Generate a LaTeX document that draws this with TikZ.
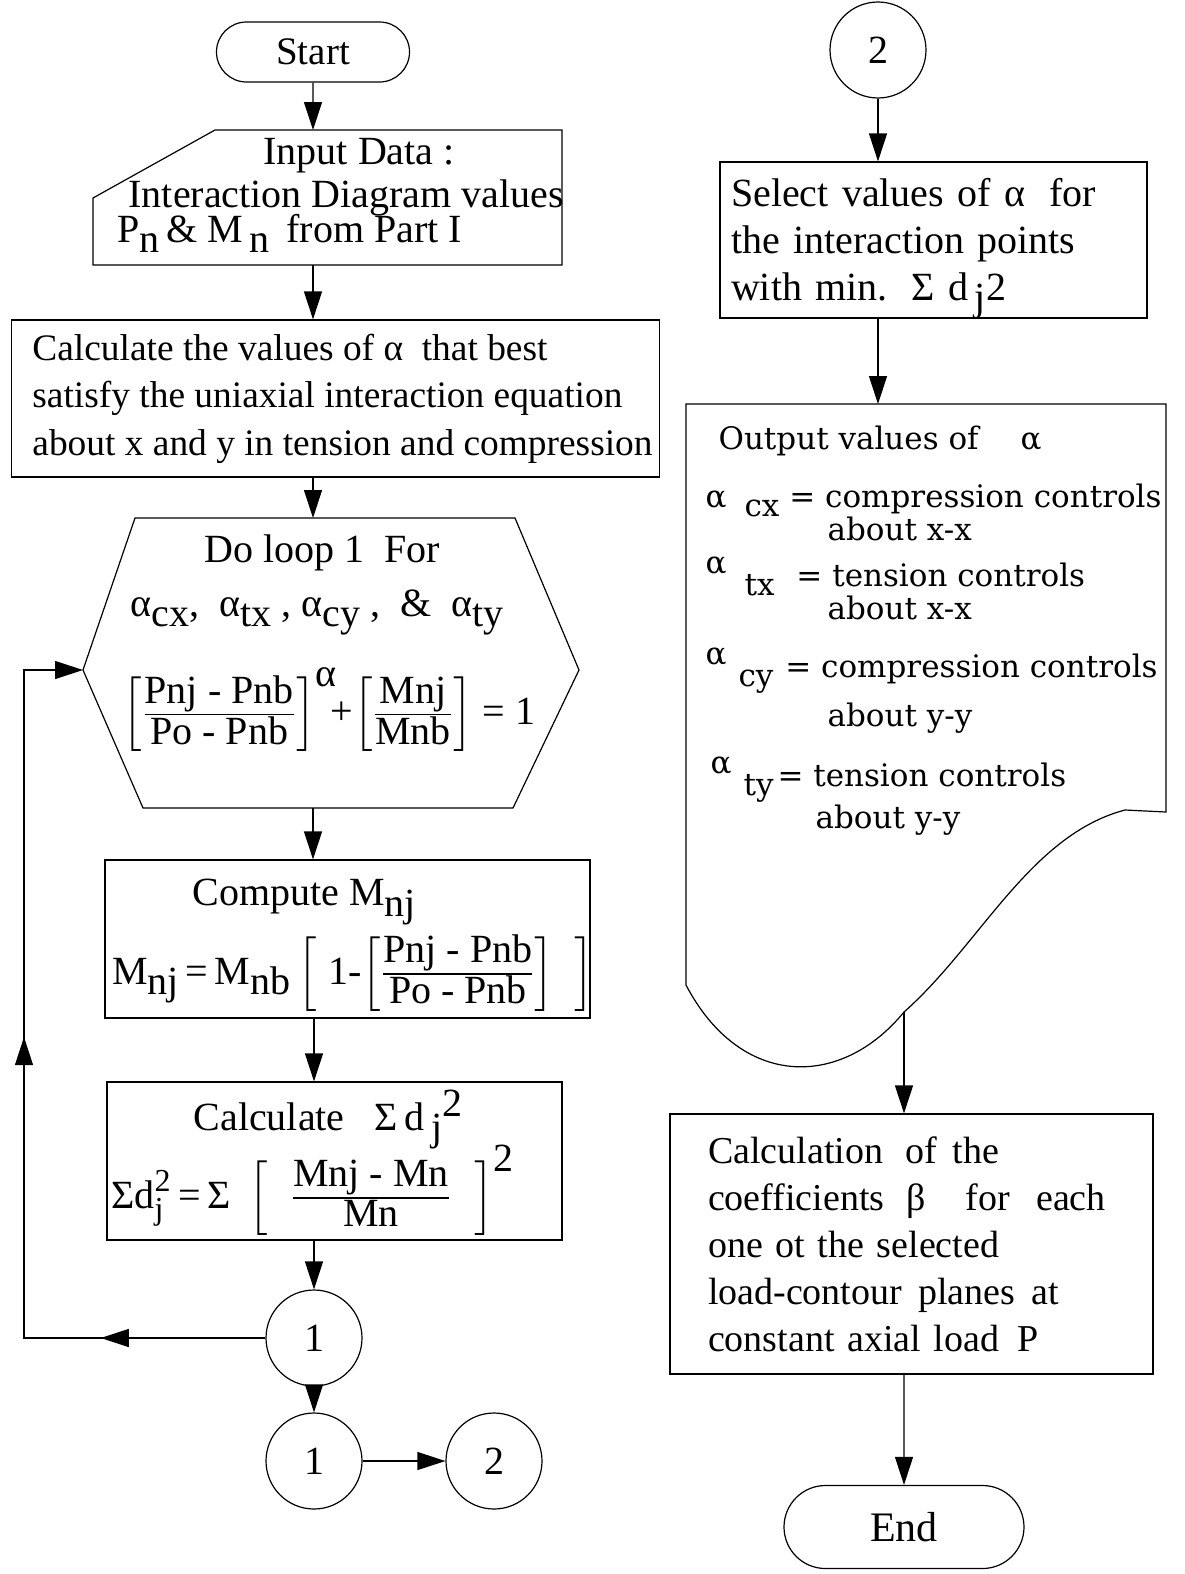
\documentclass[tikz,border=0pt]{standalone}
\usepackage{amsmath}
\usepackage{fontspec}
\setmainfont{Liberation Serif}
\newfontfamily\outfont{DejaVu Serif}
\usetikzlibrary{arrows.meta,calc,shapes.misc,decorations.markings}

\newcommand{\lo}[1]{\raisebox{-0.55ex}[0pt][0pt]{#1}}
\newcommand{\hi}[1]{\raisebox{0.8ex}[0pt][0pt]{#1}}
\newcommand{\eqf}{\fontsize{20}{20}\selectfont}
\newcommand{\idx}[1]{\text{\fontsize{16}{16}\selectfont #1}}
\newcommand{\fr}[2]{\tfrac{\text{\eqf #1}}{\text{\eqf #2}}}

\tikzset{
  box/.style={draw,rectangle,inner ysep=0pt},
  term/.style={draw,rounded rectangle,inner sep=0pt},
  conn/.style={draw,circle,minimum size=48pt,inner sep=0pt},
  flow/.style={-{Triangle[length=14pt,width=9pt]}},
  txt/.style={font=\fontsize{20}{23.5}\selectfont},
  txtsm/.style={font=\fontsize{19}{23.5}\selectfont},
  outtxt/.style={font=\outfont\fontsize{15.5}{18}\selectfont,anchor=west,inner sep=0pt},
}

\begin{document}
\begin{tikzpicture}[x=0.5pt,y=-0.5pt,line width=0.6pt,txt]
\useasboundingbox (0,0) rectangle (1184,1574);

% ---------- Left column ----------
\node[term,minimum width=96.5pt,minimum height=30pt,font=\fontsize{19.5}{20}\selectfont] (start) at (313,52) {Start};

% manual input shape
\draw (215,130) -- (562,130) -- (562,265) -- (93,265) -- (93,198) -- cycle;
\coordinate (inp-n) at (313,130);
\coordinate (inp-s) at (313,265);
\node[align=left,anchor=north west,inner sep=0pt] (inp-t) at (117,138)
  {\hspace*{73pt}Input Data :\\[-2pt]
   \hspace*{5.5pt}Interaction Diagram values\\[-6pt]
   P\lo{n}\,\& M\,\lo{n}\, from Part I};

\node[box,font=\fontsize{18.7}{23.75}\selectfont,minimum width=323.5pt,minimum height=78.5pt,align=left] (calc) at (335.5,398.5)
  {\hspace*{7pt}Calculate the values of α\ \ that best\\
   \hspace*{7pt}satisfy the uniaxial interaction equation\\
   \hspace*{7pt}about x and y in tension and compression};

% hexagon (loop)
\coordinate (hex-n) at (313,518);
\coordinate (hex-s) at (313,808);
\coordinate (hex-w) at (83,670);
\draw (135,518) -- (515,518) -- (579,670) -- (513,808) -- (143,808) -- (hex-w) -- cycle;
\node (hex-a) at (322,553) {Do loop 1\ \ For};
\node (hex-b) at (317,606) {α\lo{cx},\ \ α\lo{tx} , α\lo{cy} ,\ \ \&\ \ α\lo{ty}};
\node[inner sep=0pt] (hex-c) at (329,710)
  {$\left[\fr{Pnj - Pnb}{Po - Pnb}\right]^{\text{\eqf α}}\!\!\text{+}\!\left[\fr{Mnj}{Mnb}\right]\!\text{ = 1}$};

\node[box,minimum width=242.5pt,minimum height=79pt] (comp) at (347.5,939) {};
\node[inner sep=0pt] (comp-a) at (304,897) {Compute M\lo{nj}};
\node[inner sep=0pt] (comp-b) at (353,973)
  {$\text{M\lo{nj}\,=\,M\lo{nb}}\left[\;\text{1-}\!\left[\fr{Pnj - Pnb}{Po - Pnb}\right]\hspace{10pt}\right]$};

\node[box,minimum width=227.5pt,minimum height=79pt] (sumd) at (334.5,1161) {};
\node[inner sep=0pt] (sum-a) at (328,1117) {Calculate\ \ \ Σ\,d\,\lo{j}\hi{2}};
\node[inner sep=0pt] (sum-b) at (313,1190)
  {$\text{Σd}^{\idx{2}}_{\idx{j}}\,\text{=}\,\text{Σ}\ \left[\;\;\fr{Mnj - Mn}{Mn}\;\;\right]^{\text{\eqf 2}}$};

\node[conn] (c1) at (314,1338) {1};
\node[conn] (c1b) at (314,1461) {1};
\node[conn] (c2b) at (494,1461) {2};
\coordinate (loop-x) at (24,0);

% ---------- Right column ----------
\node[conn] (c2) at (878,50) {2};

\node[box,text width=202.5pt,inner xsep=5.5pt,minimum height=78pt,align=left] (sel) at (933.5,240)
  {Select values of α\hspace{12pt}for\\
   the interaction points\\
   with min.\hspace{12pt}Σ d\,\lo{j}2};

% document shape (output)
\coordinate (out-n) at (878,404);
\coordinate (out-s) at (904,1012);
\draw (686,404) -- (1166,404) -- (1166,812) -- (1125,810)
  .. controls (1030,835) and (980,945) .. (out-s)
  .. controls (840,1090) and (740,1088) .. (686,985) -- cycle;
\node[outtxt] (out-h) at (718,441) {Output values of \hspace{16pt}α};
\node[outtxt] (out-cx) at (705,499) {α\hspace{9pt}\lo{cx}\hspace{5pt}= compression controls};
\node[outtxt] (out-cx2) at (827,529) {about x-x};
\node[outtxt] (out-tx) at (705,575) {\hi{α}\hspace{9pt}\lo{tx}\hspace{11pt}= tension controls};
\node[outtxt] (out-tx2) at (827,608) {about x-x};
\node[outtxt] (out-cy) at (705,669) {\hi{α}\hspace{6pt}\lo{cy}\hspace{6pt}= compression controls};
\node[outtxt] (out-cy2) at (827,718) {about y-y};
\node[outtxt] (out-ty) at (710,775) {\hi{α}\hspace{6pt}\lo{ty}\hspace{2pt}= tension controls};
\node[outtxt] (out-ty2) at (815,820) {about y-y};

\node[box,txtsm,text width=203.5pt,inner xsep=19pt,minimum height=130pt,align=left] (beta) at (911.5,1244)
  {Calculation\hspace{11pt}of\hspace{8pt}the\\
   coefficients\hspace{11pt}β\hspace{20pt}for\hspace{13pt}each\\
   one ot the selected\\
   load-contour\hspace{8pt}planes\hspace{8pt}at\\
   constant axial load\hspace{9pt}P};

\node[term,minimum width=120pt,minimum height=41.5pt,font=\fontsize{21}{22}\selectfont] (end) at (904,1527) {End};

% ---------- Connectors ----------
\draw[flow] (start) -- (inp-n);
\draw[flow] (inp-s) -- (inp-s |- calc.north);
\draw[flow] (calc.south -| hex-n) -- (hex-n);
\draw[flow] (hex-s) -- (hex-s |- comp.north);
\draw[flow] (comp.south -| c1) -- (sumd.north -| c1);
\draw[flow] (sumd.south -| c1) -- (c1);
\draw[flow] (c1) -- (c1b);
\draw[flow] (c1b) -- (c2b);
\draw[flow,postaction={decorate},decoration={markings,
    mark=at position 0.17 with {\arrow{Triangle[length=14pt,width=9pt]}},
    mark=at position 0.56 with {\arrow{Triangle[length=14pt,width=9pt]}}}]
  (c1.west) -- (c1.west -| loop-x) |- (hex-w);

\draw[flow] (c2) -- (sel.north -| c2);
\draw[flow] (sel.south -| c2) -- (out-n);
\draw[flow] (out-s) -- (beta.north -| out-s);
\draw[flow] (beta.south -| end) -- (end);

\end{tikzpicture}
\end{document}
